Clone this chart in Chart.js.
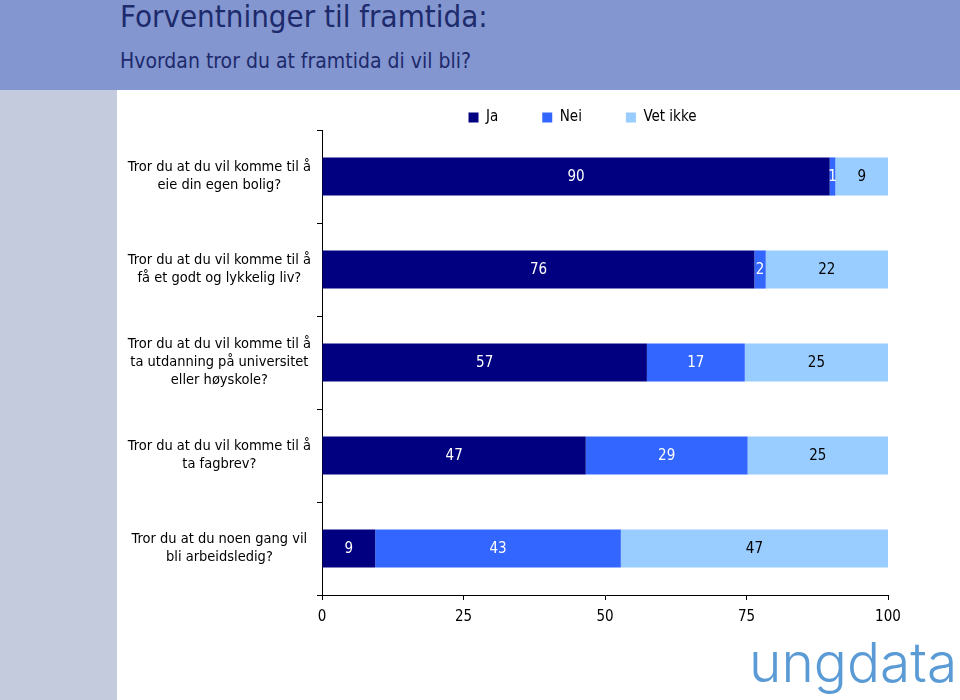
<!DOCTYPE html>
<html>
<head>
<meta charset="utf-8">
<script src="https://cdn.jsdelivr.net/npm/chart.js@4/dist/chart.umd.min.js"></script>
<style>
  html, body { margin: 0; padding: 0; }
  body { width: 960px; height: 700px; overflow: hidden; position: relative; background: #ffffff; }
  #header { position: absolute; left: 0; top: 0; width: 960px; height: 90px; background: #8496d0; }
  #stripe { position: absolute; left: 0; top: 90px; width: 117px; height: 610px; background: #c3cbdd; }
  #title { position: absolute; left: 120px; top: -2px; font-family: "DejaVu Sans Condensed", "DejaVu Sans", sans-serif; font-size: 31px; color: #1d2a6c; white-space: nowrap; }
  #subtitle { position: absolute; left: 120px; top: 49px; font-family: "DejaVu Sans Condensed", "DejaVu Sans", sans-serif; font-size: 21px; color: #1d2a6c; white-space: nowrap; }
  #logo { position: absolute; left: 749px; top: 635px; font-family: "Inter", "Lato", sans-serif; font-weight: 300; font-size: 55px; line-height: 1; color: #5b9bd5; white-space: nowrap; }
  #c { position: absolute; left: 117px; top: 64px; }
</style>
</head>
<body>
<div id="header"></div>
<div id="stripe"></div>
<div id="title">Forventninger til framtida:</div>
<div id="subtitle">Hvordan tror du at framtida di vil bli?</div>
<div id="logo">ungdata</div>
<canvas id="c" width="929" height="636"></canvas>
<script>
const categories = [
  ["Tror du at du vil komme til å", "eie din egen bolig?"],
  ["Tror du at du vil komme til å", "få et godt og lykkelig liv?"],
  ["Tror du at du vil komme til å", "ta utdanning på universitet", "eller høyskole?"],
  ["Tror du at du vil komme til å", "ta fagbrev?"],
  ["Tror du at du noen gang vil", "bli arbeidsledig?"]
];
const seriesNames = ["Ja", "Nei", "Vet ikke"];
const jaValues = [89.7, 76.4, 57.4, 46.6, 9.4];
const neiValues = [1.0, 2.0, 17.3, 28.6, 43.4];
const vetIkkeValues = [9.3, 21.6, 25.3, 24.8, 47.2];
const xTicks = [0, 25, 50, 75, 100];

const colors = ["#000080", "#3366ff", "#99ccff"];
const labelColors = ["#ffffff", "#ffffff", "#000000"];
const FONT = "'DejaVu Sans Condensed', 'DejaVu Sans', sans-serif";

const valueLabels = {
  id: 'valueLabels',
  afterDatasetsDraw(chart) {
    const ctx = chart.ctx;
    ctx.save();
    ctx.font = "15px " + FONT;
    ctx.textAlign = 'center';
    ctx.textBaseline = 'middle';
    chart.data.datasets.forEach((ds, di) => {
      const meta = chart.getDatasetMeta(di);
      meta.data.forEach((el, i) => {
        const v = ds.data[i];
        ctx.fillStyle = labelColors[di];
        ctx.fillText(String(Math.round(v)), (el.x + el.base) / 2, el.y + 1);
      });
    });
    ctx.restore();
  }
};

const legendSizer = {
  id: 'legendSizer',
  beforeLayout(chart) {
    const lg = chart.legend;
    if (lg && !lg._patched) {
      const origFit = lg.fit;
      lg.fit = function () { origFit.call(this); this.height = 66; };
      lg._patched = true;
    }
  },
  afterLayout(chart) {
    const lg = chart.legend;
    if (lg) {
      lg.left += 80; lg.right += 80;
      lg.top += 2; lg.bottom += 2;
    }
  }
};

new Chart(document.getElementById('c'), {
  type: 'bar',
  data: {
    labels: categories,
    datasets: [
      { label: seriesNames[0], data: jaValues, backgroundColor: colors[0] },
      { label: seriesNames[1], data: neiValues, backgroundColor: colors[1] },
      { label: seriesNames[2], data: vetIkkeValues, backgroundColor: colors[2] }
    ]
  },
  options: {
    indexAxis: 'y',
    responsive: false,
    animation: false,
    devicePixelRatio: 1,
    categoryPercentage: 1.0,
    barPercentage: 0.41,
    layout: { padding: { left: 0, right: 158, top: 0, bottom: 65 } },
    plugins: {
      legend: {
        position: 'top',
        labels: {
          boxWidth: 10, boxHeight: 10, padding: 44,
          color: '#000000',
          font: { family: FONT, size: 15 }
        }
      },
      tooltip: { enabled: false }
    },
    scales: {
      x: {
        stacked: true,
        min: 0, max: 100,
        afterBuildTicks(scale) { scale.ticks = xTicks.map(v => ({ value: v })); },
        afterFit(scale) { scale.height = 40; },
        ticks: { color: '#000000', font: { family: FONT, size: 15 }, padding: 8, maxRotation: 0 },
        grid: { drawOnChartArea: false, drawTicks: true, tickLength: 5, color: '#000000' },
        border: { color: '#000000', width: 1 }
      },
      y: {
        stacked: true,
        afterFit(scale) { scale.width = 205; },
        ticks: { color: '#000000', font: { family: FONT, size: 14.5, lineHeight: 1.25 }, padding: 6, crossAlign: 'center' },
        grid: { drawOnChartArea: false, drawTicks: true, tickLength: 5, color: '#000000', offset: true },
        border: { color: '#000000', width: 1 }
      }
    }
  },
  plugins: [valueLabels, legendSizer]
});
</script>
</body>
</html>
